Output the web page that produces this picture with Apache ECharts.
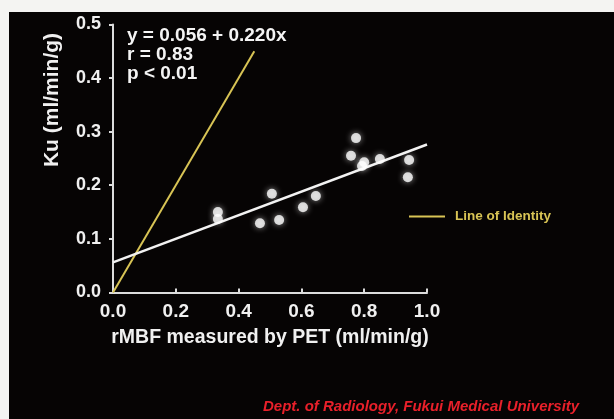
<!DOCTYPE html>
<html>
<head>
<meta charset="utf-8">
<script src="https://cdn.jsdelivr.net/npm/echarts@6/dist/echarts.min.js"></script>
<style>
html,body{margin:0;padding:0;background:#f4f4f2;}
#chart{width:614px;height:419px;}
</style>
</head>
<body>
<div id="chart"></div>
<script>
// Measured points: rMBF by PET (x) vs Ku (y)
var pointsX = [0.334, 0.334, 0.468, 0.506, 0.529, 0.605, 0.646, 0.758, 0.774, 0.793, 0.800, 0.850, 0.939, 0.943];
var pointsY = [0.150, 0.137, 0.129, 0.184, 0.135, 0.159, 0.180, 0.255, 0.288, 0.236, 0.243, 0.249, 0.215, 0.247];
// Regression line y = 0.056 + 0.220x endpoints
var regressionX = [0.0, 1.0];
var regressionY = [0.056, 0.276];
// Line of identity endpoints
var identityX = [0.0, 0.45];
var identityY = [0.0, 0.45];
var xTicks = ['0.0', '0.2', '0.4', '0.6', '0.8', '1.0'];
var yTicks = ['0.0', '0.1', '0.2', '0.3', '0.4', '0.5'];
var annotationLines = ['y = 0.056 + 0.220x', 'r = 0.83', 'p < 0.01'];
var legendLabel = 'Line of Identity';
var footerText = 'Dept. of Radiology, Fukui Medical University';
var xAxisName = 'rMBF measured by PET (ml/min/g)';
var yAxisName = 'Ku (ml/min/g)';

function zip(a, b) { return a.map(function (v, i) { return [v, b[i]]; }); }

var FONT = '"Liberation Sans", Arial, Helvetica, sans-serif';
var AXIS_COLOR = '#dcdcdc';
var YELLOW = '#d8c455';

var chart = echarts.init(document.getElementById('chart'), null, {renderer: 'canvas'});
var option = {
  animation: false,
  backgroundColor: '#f4f4f2',
  grid: {left: 113, right: 187, top: 24.5, bottom: 126.6, containLabel: false},
  xAxis: {
    type: 'value', min: 0, max: 1, interval: 0.2,
    name: xAxisName, nameLocation: 'middle', nameGap: 35,
    nameTextStyle: {color: '#f0f0f0', fontFamily: FONT, fontWeight: 'bold', fontSize: 19.5},
    axisLine: {show: true, onZero: false, lineStyle: {color: AXIS_COLOR, width: 2}},
    axisTick: {show: true, inside: true, length: 4, lineStyle: {color: AXIS_COLOR, width: 2}},
    splitLine: {show: false},
    axisLabel: {color: '#f0f0f0', fontFamily: FONT, fontWeight: 'bold', fontSize: 19, margin: 10,
      formatter: function (v) { return xTicks[Math.round(v / 0.2)]; }}
  },
  yAxis: {
    type: 'value', min: 0, max: 0.5, interval: 0.1,
    axisLine: {show: true, onZero: false, lineStyle: {color: AXIS_COLOR, width: 2}},
    axisTick: {show: true, inside: false, length: 4, lineStyle: {color: AXIS_COLOR, width: 2}},
    splitLine: {show: false},
    axisLabel: {color: '#f0f0f0', fontFamily: FONT, fontWeight: 'bold', fontSize: 18, margin: 12,
      formatter: function (v) { return yTicks[Math.round(v / 0.1)]; }}
  },
  graphic: [
    {type: 'rect', z: -10, left: 9, top: 12, shape: {width: 605, height: 407}, style: {fill: '#060404'}},
    {type: 'text', z: 10, left: 127, top: 26, style: {
      text: annotationLines.join('\n'), fill: '#f4f4f4', font: 'bold 19px ' + FONT, lineHeight: 19}},
    {type: 'text', z: 10, x: 52, y: 100, rotation: Math.PI / 2, style: {
      text: yAxisName, fill: '#f0f0f0', font: 'bold 21px ' + FONT, align: 'center', verticalAlign: 'middle'}},
    {type: 'line', z: 10, shape: {x1: 409, y1: 216.5, x2: 445, y2: 216.5}, style: {stroke: YELLOW, lineWidth: 2}},
    {type: 'text', z: 10, x: 455, y: 216, style: {
      text: legendLabel, fill: YELLOW, font: 'bold 13.5px ' + FONT, verticalAlign: 'middle'}},
    {type: 'text', z: 10, x: 263, y: 407, style: {
      text: footerText, fill: '#e8202a', font: 'italic bold 15px ' + FONT, verticalAlign: 'middle'}}
  ],
  series: [
    {type: 'line', data: zip(identityX, identityY), symbol: 'none', z: 3,
      lineStyle: {color: YELLOW, width: 2}},
    {type: 'line', data: zip(regressionX, regressionY), symbol: 'none', z: 4,
      lineStyle: {color: '#f2f2f2', width: 2.5}},
    {type: 'scatter', data: zip(pointsX, pointsY), symbol: 'circle', symbolSize: 10, z: 5,
      itemStyle: {color: '#ffffff', shadowBlur: 6, shadowColor: 'rgba(255,255,255,0.7)'}}
  ]
};
chart.setOption(option);
</script>
</body>
</html>
